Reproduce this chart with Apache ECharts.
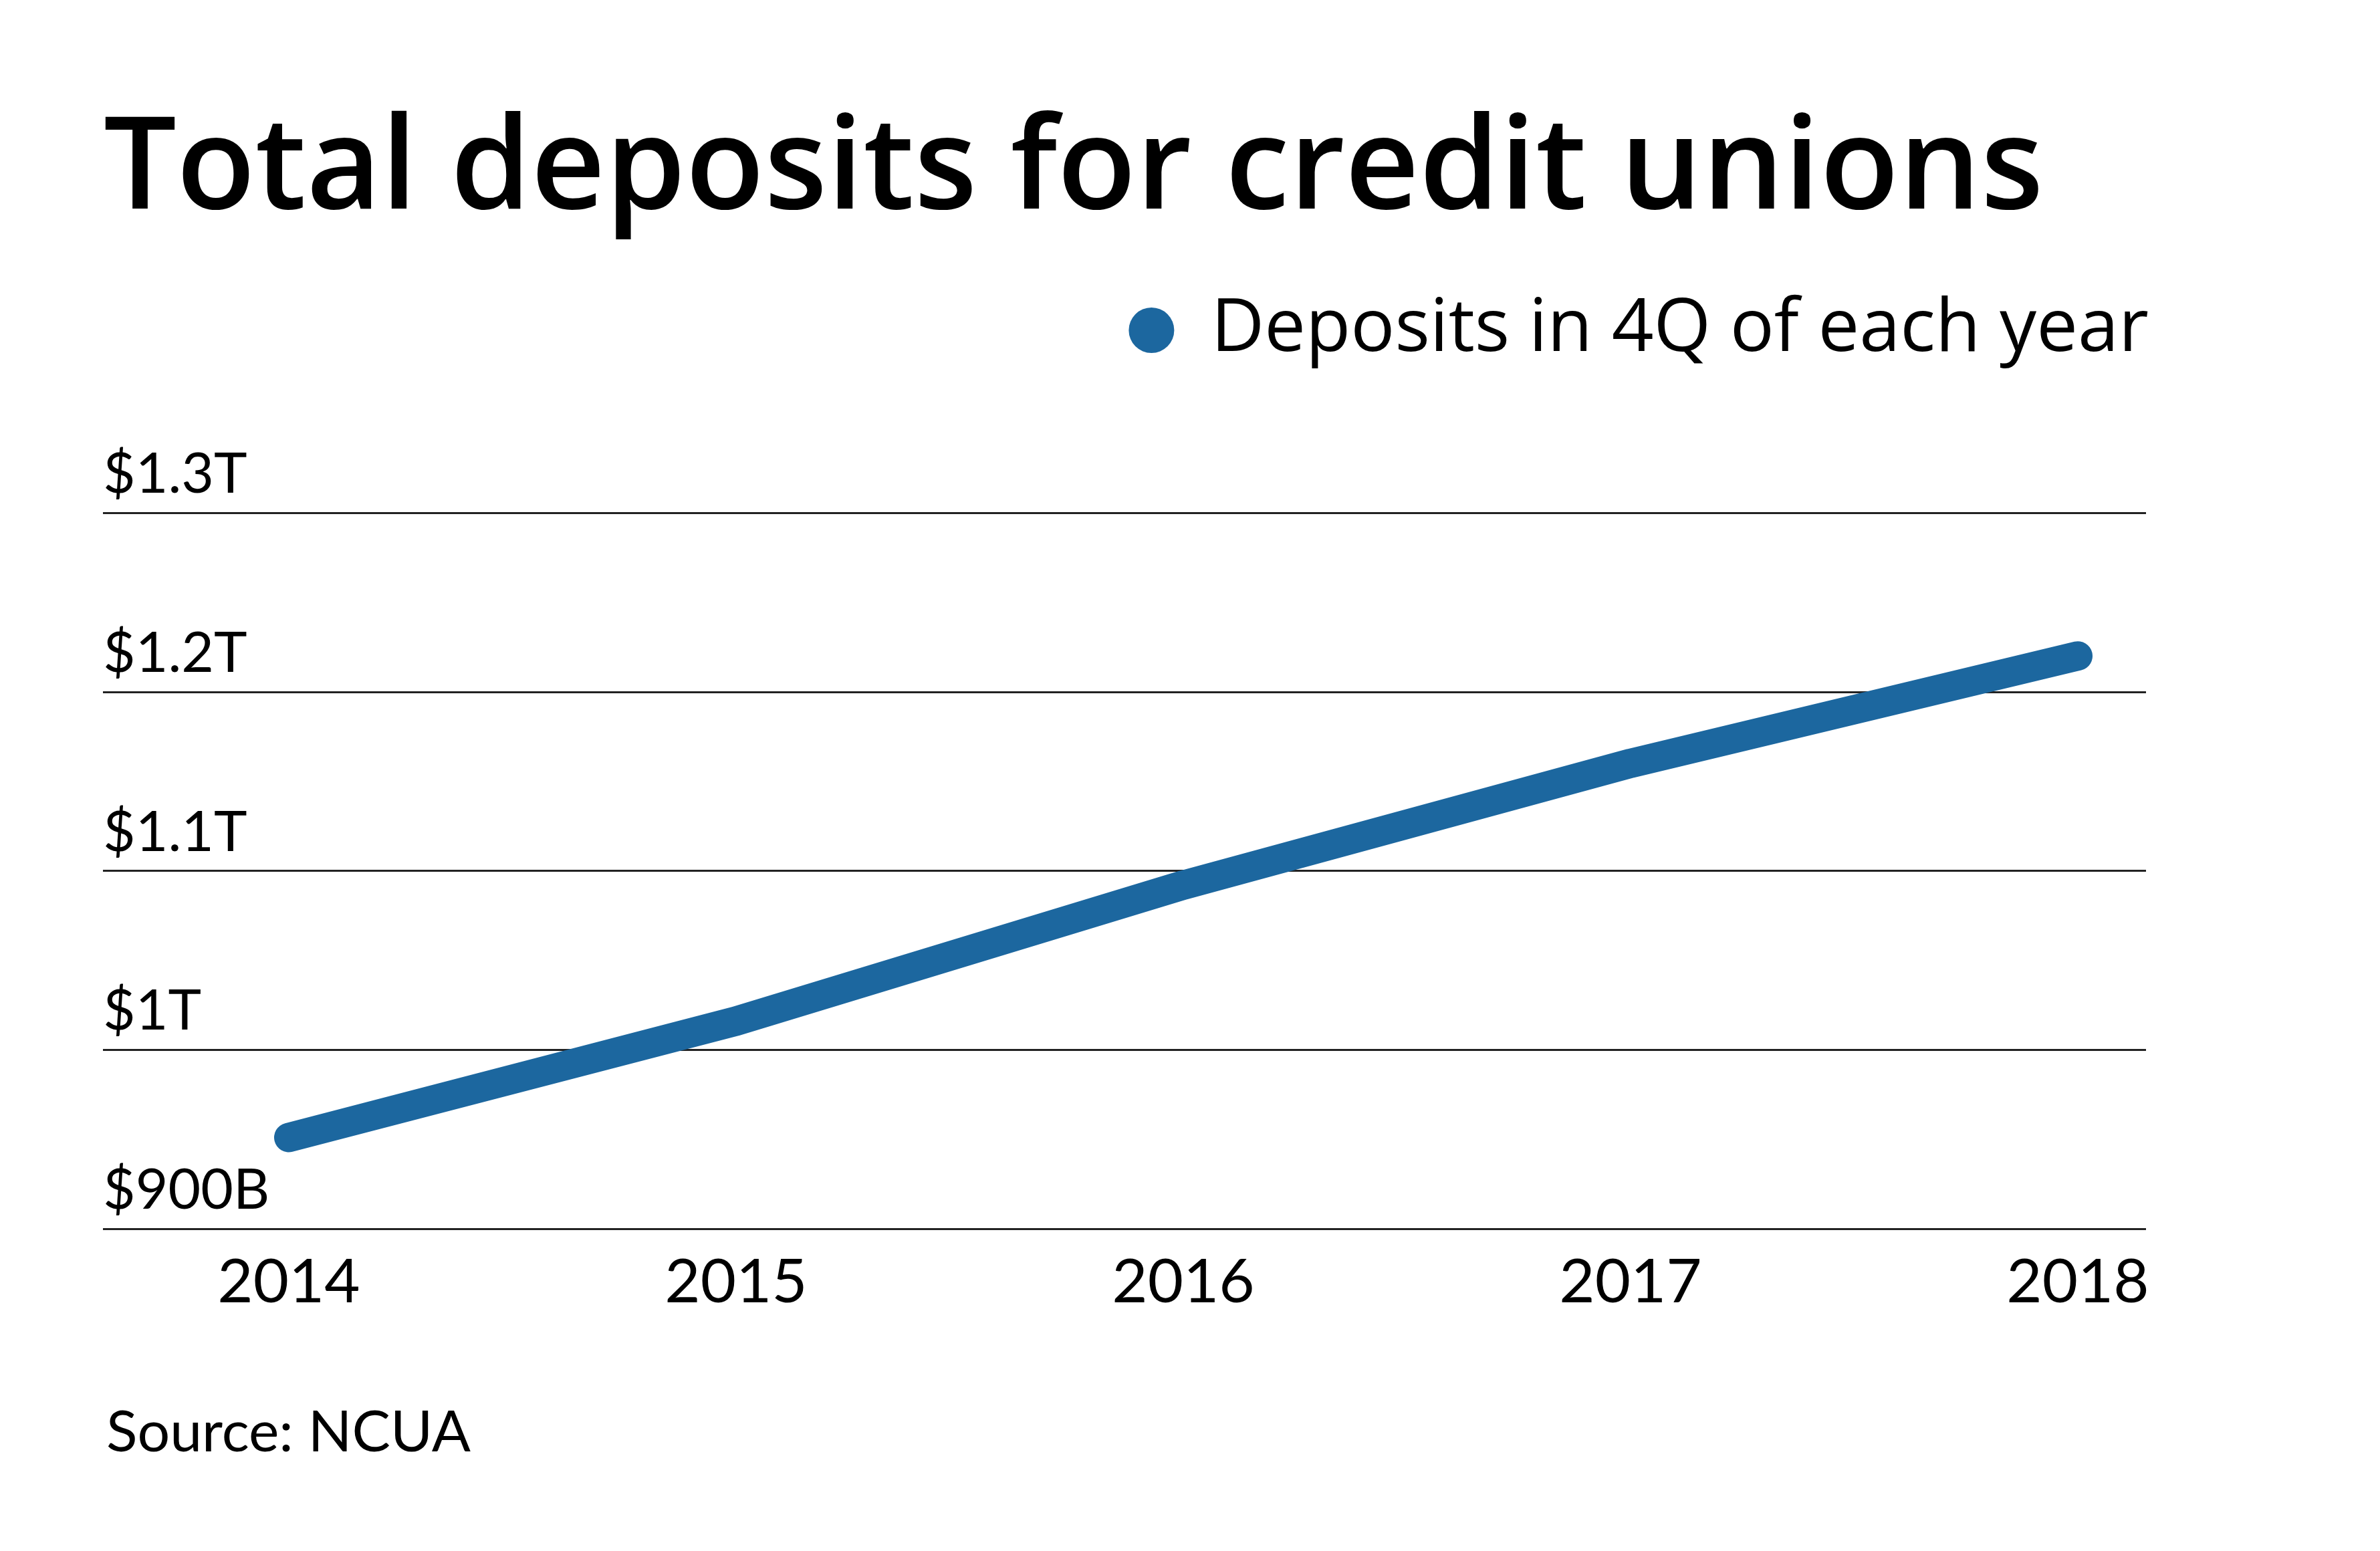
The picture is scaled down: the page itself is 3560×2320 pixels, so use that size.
<!DOCTYPE html>
<html><head><meta charset="utf-8">
<script src="https://cdn.jsdelivr.net/npm/echarts@6/dist/echarts.min.js"></script>
<style>html,body{margin:0;padding:0;background:#fff}#c{width:3560px;height:2320px}</style>
</head><body><div id="c"></div>
<script>
const years = ['2014', '2015', '2016', '2017', '2018'];
const deposits = [951, 1016, 1092, 1160, 1220]; // billions of dollars
const yTickValues = [900, 1000, 1100, 1200, 1300];
const yTickLabels = ['$900B', '$1T', '$1.1T', '$1.2T', '$1.3T'];
const seriesName = 'Deposits in 4Q of each year';
const titleText = 'Total deposits for credit unions';
const sourceText = 'Source: NCUA';

const FONT = 'Lato';
const WIDE = '"Open Sans"';
const BLUE = '#1c679f';
const yMin = yTickValues[0], yMax = yTickValues[yTickValues.length - 1];
const yStep = yTickValues[1] - yTickValues[0];

const chart = echarts.init(document.getElementById('c'), null, {renderer: 'canvas'});
chart.setOption({
  backgroundColor: '#fff',
  animation: false,
  title: [
    {text: titleText, left: 150, top: 156,
     textStyle: {fontFamily: WIDE, fontSize: 193, fontWeight: 600, color: '#000'}},
    {text: sourceText, left: 154, top: 2095,
     textStyle: {fontFamily: FONT, fontSize: 86, fontWeight: 'normal', color: '#000'}}
  ],
  legend: {
    data: [{name: seriesName, icon: 'circle'}],
    right: 341, top: 434,
    itemWidth: 68, itemHeight: 68,
    textStyle: {fontFamily: WIDE, fontSize: 110, color: '#000', padding: [0, 0, 0, 50]}
  },
  grid: [
    {left: 432, right: 452, top: 767, bottom: 482},
    {left: 154, right: 350, top: 767, bottom: 482}
  ],
  xAxis: [
    {type: 'category', gridIndex: 0, data: years, boundaryGap: false,
     axisLine: {show: false}, axisTick: {show: false},
     axisLabel: {fontFamily: FONT, fontSize: 92, color: '#000', margin: 34}},
    {type: 'category', gridIndex: 1, data: years, show: false}
  ],
  yAxis: [
    {type: 'value', gridIndex: 0, min: yMin, max: yMax, interval: yStep, show: false,
     splitLine: {show: false}},
    {type: 'value', gridIndex: 1, min: yMin, max: yMax, interval: yStep,
     axisLine: {show: false}, axisTick: {show: false},
     splitLine: {show: true, lineStyle: {color: '#222', width: 3}},
     axisLabel: {inside: true, margin: 0, align: 'left', verticalAlign: 'bottom',
       fontFamily: FONT, fontSize: 84, color: '#000', padding: [0, 0, 15, 0],
       formatter: v => yTickLabels[yTickValues.indexOf(v)]}}
  ],
  series: [{
    name: seriesName, type: 'line', xAxisIndex: 0, yAxisIndex: 0,
    data: deposits, showSymbol: false, symbol: 'circle', symbolSize: 0,
    itemStyle: {color: BLUE},
    lineStyle: {color: BLUE, width: 44, cap: 'round', join: 'round'}
  }]
});
</script></body></html>
